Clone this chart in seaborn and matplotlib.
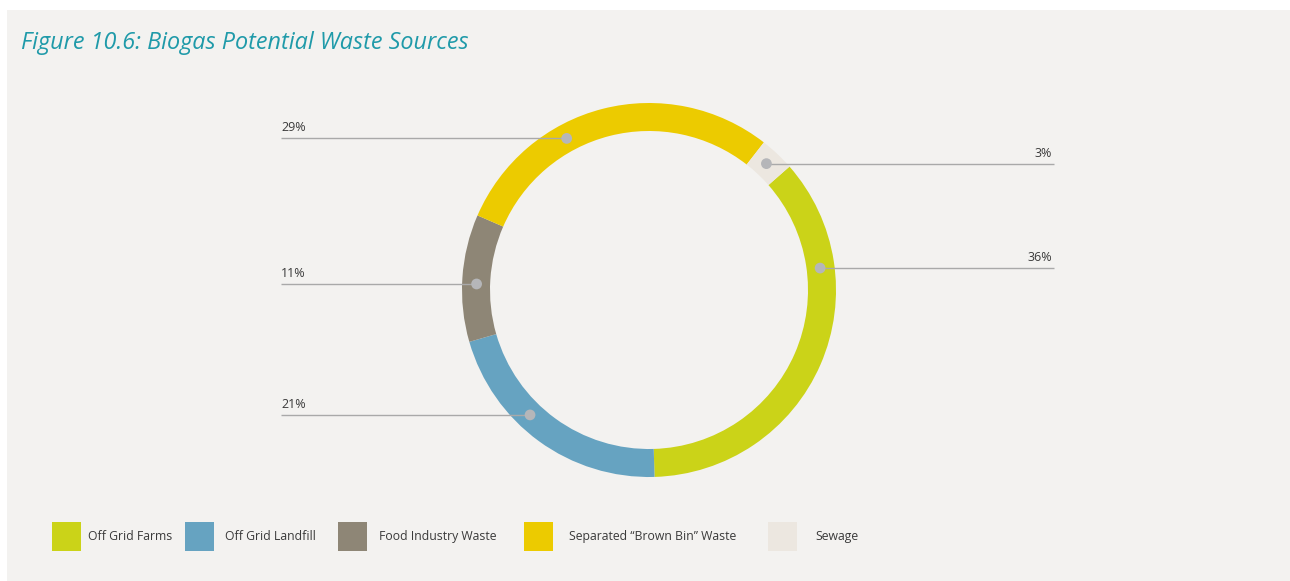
import matplotlib
matplotlib.use("Agg")
import matplotlib.pyplot as plt
from matplotlib.patches import Rectangle
import numpy as np
import seaborn as sns

# Data: share of biogas potential by waste source
categories = ["Off Grid Farms", "Off Grid Landfill", "Food Industry Waste",
              "Separated \u201cBrown Bin\u201d Waste", "Sewage"]
shares = [36, 21, 11, 29, 3]

colors = sns.color_palette(["#CBD318", "#66A3C1", "#8E8676", "#ECCB00", "#ECE7E0"])

# Where each leader line touches the ring (degrees clockwise from 12 o'clock)
anchor_angles = [82.7, 223.6, 272.0, 331.5, 42.9]

W, H = 1290, 581
BG = "#F3F2F0"
TEAL = "#1F9AA9"
TEXT = "#3A3A3A"
LINE = "#A9A9A9"
DOT = "#B5B6B9"

sns.set_theme(style="white")
plt.rcParams["font.family"] = ["Open Sans", "DejaVu Sans"]

fig = plt.figure(figsize=(W / 100, H / 100), dpi=100, facecolor="white")
ax = fig.add_axes([0, 0, 1, 1])

# panel background
ax.add_patch(Rectangle((7, 0), W - 7, H - 10, facecolor=BG, edgecolor="none", zorder=0))

cx, cy = 649, H - 290
r_out, ring = 187, 28

# first wedge (farms) begins 48.7 degrees clockwise from 12 o'clock
ax.pie(shares, colors=colors, startangle=90 - 48.7, counterclock=False,
       center=(cx, cy), radius=r_out,
       wedgeprops=dict(width=ring, edgecolor="none", linewidth=0))

ax.set_xlim(0, W)
ax.set_ylim(0, H)
ax.set_aspect("equal")
ax.axis("off")

# leader lines with value labels
r_mid = r_out - ring / 2 - 0.5
left_x, right_x = 281, 1054
for val, ang in zip(shares, anchor_angles):
    t = np.deg2rad(ang)
    px = cx + r_mid * np.sin(t)
    py = cy + r_mid * np.cos(t)
    if px < cx:
        ax.plot([left_x, px], [py, py], color=LINE, lw=1.0, zorder=3,
                solid_capstyle="butt")
        ax.text(left_x, py + 4, f"{val}%", ha="left", va="bottom",
                fontsize=9, color=TEXT, zorder=4)
    else:
        ax.plot([px, right_x], [py, py], color=LINE, lw=1.0, zorder=3,
                solid_capstyle="butt")
        ax.text(right_x - 2, py + 4, f"{val}%", ha="right", va="bottom",
                fontsize=9, color=TEXT, zorder=4)
    ax.scatter([px], [py], s=60, color=DOT, edgecolors="none", zorder=5)

# title
ax.text(21, H - 49, "Figure 10.6: Biogas Potential Waste Sources", ha="left",
        va="baseline", fontsize=16.8, style="italic", color=TEAL)

# legend
sq_x = [52, 185, 338, 524, 768]
txt_x = [88, 225, 379, 569, 815]
sq = 29
ly = H - 551
for name, col, sx, tx in zip(categories, colors, sq_x, txt_x):
    ax.add_patch(Rectangle((sx, ly), sq, sq, facecolor=col, edgecolor="none", zorder=3))
    ax.text(tx, ly + sq / 2, name, ha="left", va="center", fontsize=8.8,
            color=TEXT, zorder=4)

fig.savefig("out.png", dpi=100, facecolor="white")
